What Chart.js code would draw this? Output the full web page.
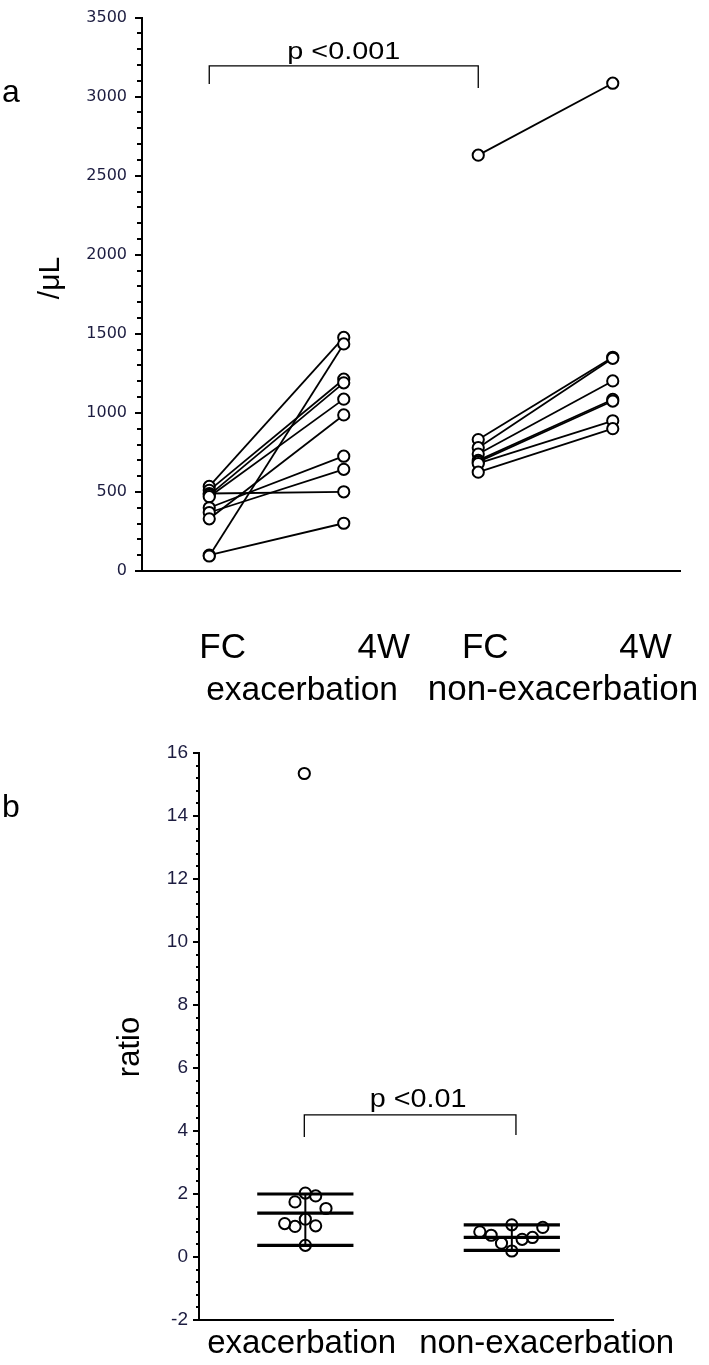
<!DOCTYPE html>
<html><head><meta charset="utf-8">
<script src="https://cdn.jsdelivr.net/npm/chart.js@4.4.1/dist/chart.umd.min.js"></script>
<style>
html,body{margin:0;padding:0;background:#fff;}
#wa{position:absolute;left:0;top:0;width:709px;height:720px;}
#wb{position:absolute;left:0;top:720px;width:709px;height:645px;}
</style></head><body>
<div id="wa"><canvas id="ca"></canvas></div>
<div id="wb"><canvas id="cb"></canvas></div>
<script>
// ---------- data ----------
const timepoints = ['FC', '4W', 'FC', '4W'];
const groups = ['exacerbation', 'non-exacerbation'];
const exacFC = [535, 510, 490, 480, 470, 400, 370, 330, 100, 95];
const exac4W = [1477, 1213, 501, 1190, 1087, 726, 643, 987, 302, 1436];
const nonFC = [2630, 831, 780, 740, 700, 690, 680, 625];
const non4W = [3085, 1352, 1345, 1202, 1085, 1075, 950, 900];
const ratioExac = [15.35, 2.03, 1.94, 1.75, 1.54, 1.20, 1.06, 0.97, 0.99, 0.37];
const ratioNon = [0.80, 0.69, 0.44, 1.02, 0.19, 0.56, 0.62, 0.94];
const exacSummary = [0.37, 1.39, 2.0];   // lower, centre, upper
const nonSummary = [0.21, 0.62, 1.02];
const pTextA = 'p <0.001';
const pTextB = 'p <0.01';
const titleA = '/μL';
const titleB = 'ratio';
const panelA = 'a', panelB = 'b';

// ---------- layout (not data) ----------
const exacJitter = [-0.005, 0, 0.05, -0.05, 0.1, 0, -0.1, -0.05, 0.05, 0];
const nonJitter = [-0.155, -0.1, -0.05, 0, 0, 0.05, 0.1, 0.15];
const BAR_HALF = 0.233;
const FONT = "'Liberation Sans', Arial, sans-serif";
const TICK_COLOR = '#1c1c40';

function drawText(ctx, s, x, y, size, sx, align, rot) {
  ctx.save();
  ctx.translate(x, y);
  if (rot) ctx.rotate(rot);
  ctx.scale(sx || 1, 1);
  ctx.font = size + 'px ' + FONT;
  ctx.fillStyle = '#000';
  ctx.textAlign = align || 'center';
  ctx.textBaseline = rot ? 'middle' : 'alphabetic';
  ctx.fillText(s, 0, 0);
  ctx.restore();
}

const minorTicks = {
  id: 'minorTicks',
  afterDraw(chart, args, o) {
    const s = chart.scales.y, ctx = chart.ctx;
    ctx.save();
    ctx.strokeStyle = '#000';
    ctx.lineWidth = o.width;
    const n = Math.round((s.max - s.min) / o.step);
    const per = Math.round(o.major / o.step);
    for (let i = 0; i <= n; i++) {
      if (i % per === 0) continue;
      const y = Math.round(s.getPixelForValue(s.min + i * o.step));
      ctx.beginPath();
      ctx.moveTo(s.right - o.len, y);
      ctx.lineTo(s.right, y);
      ctx.stroke();
    }
    ctx.restore();
  }
};

function bracket(ctx, xs, ys, x1, x2, y, yl, yr) {
  ctx.save();
  ctx.strokeStyle = '#000';
  ctx.lineWidth = 1.3;
  ctx.beginPath();
  ctx.moveTo(xs.getPixelForValue(x1), ys.getPixelForValue(yl));
  ctx.lineTo(xs.getPixelForValue(x1), ys.getPixelForValue(y));
  ctx.lineTo(xs.getPixelForValue(x2), ys.getPixelForValue(y));
  ctx.lineTo(xs.getPixelForValue(x2), ys.getPixelForValue(yr));
  ctx.stroke();
  ctx.restore();
}

const annotA = {
  id: 'annotA',
  afterDraw(chart) {
    const ctx = chart.ctx, xs = chart.scales.x, ys = chart.scales.y, b = chart.chartArea.bottom;
    bracket(ctx, xs, ys, 1, 3, 3195, 3080, 3055);
    drawText(ctx, pTextA, xs.getPixelForValue(2.0), ys.getPixelForValue(3237), 24, 1.2);
    const tpos = [1.1, 2.297, 3.052, 4.243];
    timepoints.forEach((t, i) => drawText(ctx, t, xs.getPixelForValue(tpos[i]), b + 87, 35, 1));
    const gpos = [1.69, 3.63];
    const gsize = [33.5, 35];
    groups.forEach((g, i) => drawText(ctx, g, xs.getPixelForValue(gpos[i]), b + 129, gsize[i], 1));
    drawText(ctx, titleA, 51, 278, 30, 1, 'center', -Math.PI / 2);
    drawText(ctx, panelA, 2, 102, 32, 1, 'left');
  }
};

const annotB = {
  id: 'annotB',
  afterDraw(chart) {
    const ctx = chart.ctx, xs = chart.scales.x, ys = chart.scales.y, b = chart.chartArea.bottom;
    bracket(ctx, xs, ys, 0.995, 2.02, 4.51, 3.81, 3.87);
    drawText(ctx, pTextB, xs.getPixelForValue(1.546), ys.getPixelForValue(4.77), 25, 1.15);
    const gpos = [0.982, 2.169];
    groups.forEach((g, i) => drawText(ctx, g, xs.getPixelForValue(gpos[i]), b + 33, 33, 1));
    drawText(ctx, titleB, 130, 327, 31, 1, 'center', -Math.PI / 2);
    drawText(ctx, panelB, 2, 97, 32, 1, 'left');
  }
};

// ---------- panel a ----------
const dsA = [];
exacFC.forEach((v, i) => dsA.push({
  data: [{x: 1, y: v}, {x: 2, y: exac4W[i]}],
  showLine: true, borderColor: '#000', borderWidth: 1.8, pointRadius: 0, order: 1
}));
nonFC.forEach((v, i) => dsA.push({
  data: [{x: 3, y: v}, {x: 4, y: non4W[i]}],
  showLine: true, borderColor: '#000', borderWidth: 1.8, pointRadius: 0, order: 1
}));
const ptsA = [];
exacFC.forEach((v, i) => { ptsA.push({x: 1, y: v}); ptsA.push({x: 2, y: exac4W[i]}); });
nonFC.forEach((v, i) => { ptsA.push({x: 3, y: v}); ptsA.push({x: 4, y: non4W[i]}); });
dsA.push({
  data: ptsA, showLine: false, pointRadius: 5.6, pointBorderWidth: 2,
  pointBackgroundColor: '#fff', pointBorderColor: '#000', order: 0
});

new Chart(document.getElementById('ca'), {
  type: 'scatter',
  data: {datasets: dsA},
  plugins: [minorTicks, annotA],
  options: {
    responsive: true, maintainAspectRatio: false, animation: false, devicePixelRatio: 1, events: [],
    layout: {padding: {left: 0, top: 12, right: 29, bottom: 0}},
    plugins: {legend: {display: false}, tooltip: {enabled: false},
      minorTicks: {step: 100, major: 500, len: 5, width: 2}},
    scales: {
      x: {type: 'linear', min: 0.5, max: 4.5,
        ticks: {display: false}, grid: {display: false},
        border: {display: true, color: '#000', width: 2},
        afterFit(s) { s.height = 149; }},
      y: {type: 'linear', min: 0, max: 3500,
        ticks: {stepSize: 500, color: TICK_COLOR, padding: 8,
          font: {family: "'DejaVu Sans', sans-serif", size: 16},
          callback: v => String(v)},
        grid: {drawOnChartArea: false, drawTicks: true, tickLength: 7, color: '#000', lineWidth: 2},
        border: {display: true, color: '#000', width: 2},
        afterFit(s) { s.width = 142; }}
    }
  }
});

// ---------- panel b ----------
const dsB = [];
const summaries = [[1, exacSummary], [2, nonSummary]];
summaries.forEach(([c, sm]) => {
  sm.forEach(v => dsB.push({
    data: [{x: c - BAR_HALF, y: v}, {x: c + BAR_HALF, y: v}],
    showLine: true, borderColor: '#000', borderWidth: 3.2, pointRadius: 0, order: 0
  }));
  dsB.push({
    data: [{x: c, y: sm[0]}, {x: c, y: sm[2]}],
    showLine: true, borderColor: '#000', borderWidth: 2, pointRadius: 0, order: 0
  });
});
const ptsB = [];
ratioExac.forEach((v, i) => ptsB.push({x: 1 + exacJitter[i], y: v}));
ratioNon.forEach((v, i) => ptsB.push({x: 2 + nonJitter[i], y: v}));
dsB.push({
  data: ptsB, showLine: false, pointRadius: 5.6, pointBorderWidth: 2,
  pointBackgroundColor: 'rgba(255,255,255,0)', pointBorderColor: '#000', order: 1
});

new Chart(document.getElementById('cb'), {
  type: 'scatter',
  data: {datasets: dsB},
  plugins: [minorTicks, annotB],
  options: {
    responsive: true, maintainAspectRatio: false, animation: false, devicePixelRatio: 1, events: [],
    layout: {padding: {left: 0, top: 33, right: 96, bottom: 0}},
    plugins: {legend: {display: false}, tooltip: {enabled: false},
      minorTicks: {step: 0.4, major: 2, len: 3, width: 2}},
    scales: {
      x: {type: 'linear', min: 0.485, max: 2.49,
        ticks: {display: false}, grid: {display: false},
        border: {display: true, color: '#000', width: 2},
        afterFit(s) { s.height = 45; }},
      y: {type: 'linear', min: -2, max: 16,
        ticks: {stepSize: 2, color: TICK_COLOR, padding: 5,
          font: {family: FONT, size: 19}, callback: v => String(v)},
        grid: {drawOnChartArea: false, drawTicks: true, tickLength: 6, color: '#000', lineWidth: 2},
        border: {display: true, color: '#000', width: 2},
        afterFit(s) { s.width = 199; }}
    }
  }
});
</script>
</body></html>
